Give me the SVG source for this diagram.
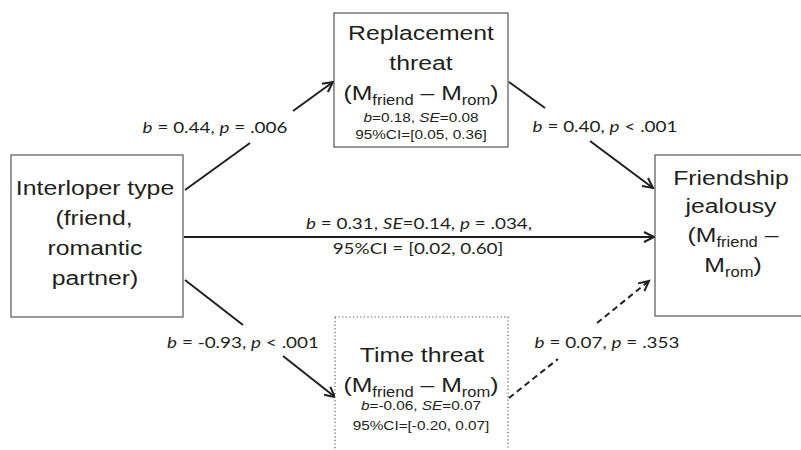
<svg xmlns="http://www.w3.org/2000/svg" width="801" height="450" viewBox="0 0 801 450">
<style>
.box{fill:#fff;stroke:#555;stroke-width:1.2}
.dot{fill:#fff;stroke:#555;stroke-width:1.2;stroke-dasharray:1.2 2.4}
.nt{font-family:"Liberation Sans",Arial,sans-serif;font-size:21px;fill:#231f20;text-anchor:middle}
.sub{font-size:14px}
.st{font-family:"Liberation Sans",Arial,sans-serif;font-size:13px;fill:#231f20;text-anchor:middle}
.lb{font-family:Lato,"Open Sans",sans-serif;font-size:16px;fill:#231f20;text-anchor:middle}
.i{font-style:italic}
.ln{stroke:#231f20;stroke-width:2;fill:none}
.dash{stroke-dasharray:6 4}
</style>
<defs>
<marker id="arr" markerUnits="userSpaceOnUse" markerWidth="14" markerHeight="14" refX="11" refY="6" orient="auto" overflow="visible">
<path d="M1,1 L11,6 L1,11" fill="none" stroke="#231f20" stroke-width="2"/>
</marker>
</defs>

<g id="connectors">
<line class="ln" x1="185" y1="190" x2="250" y2="143"/>
<line class="ln" x1="293" y1="111" x2="333" y2="82" marker-end="url(#arr)"/>
<line class="ln" x1="509" y1="82" x2="545" y2="108"/>
<line class="ln" x1="590" y1="141" x2="653" y2="188" marker-end="url(#arr)"/>
<line class="ln" x1="184" y1="237" x2="654" y2="237" marker-end="url(#arr)"/>
<line class="ln" x1="185" y1="280" x2="243" y2="325"/>
<line class="ln" x1="283" y1="356" x2="335" y2="397" marker-end="url(#arr)"/>
<line class="ln dash" x1="509" y1="398" x2="558" y2="359"/>
<line class="ln dash" x1="597" y1="323" x2="649" y2="281" marker-end="url(#arr)"/>
</g>

<g id="labels">
<text class="lb" transform="translate(215 0) scale(1.18 1)" x="0" y="133"><tspan class="i">b</tspan> = 0.44, <tspan class="i">p</tspan> = .006</text>
<text class="lb" transform="translate(605 0) scale(1.18 1)" x="0" y="132"><tspan class="i">b</tspan> = 0.40, <tspan class="i">p</tspan> &lt; .001</text>
<text class="lb" transform="translate(419 0) scale(1.18 1)" x="0" y="229"><tspan class="i">b</tspan> = 0.31, <tspan class="i">SE</tspan>=0.14, <tspan class="i">p</tspan> = .034,</text>
<text class="lb" transform="translate(418 0) scale(1.18 1)" x="0" y="254">95%CI = [0.02, 0.60]</text>
<text class="lb" transform="translate(243 0) scale(1.18 1)" x="0" y="348"><tspan class="i">b</tspan> = -0.93, <tspan class="i">p</tspan> &lt; .001</text>
<text class="lb" transform="translate(607 0) scale(1.18 1)" x="0" y="348"><tspan class="i">b</tspan> = 0.07, <tspan class="i">p</tspan> = .353</text>
</g>

<g id="interloper">
<rect class="box" x="11" y="155" width="172" height="162"/>
<text class="nt" transform="translate(95 0) scale(1.18 1)" x="0" y="195">Interloper type</text>
<text class="nt" transform="translate(94 0) scale(1.18 1)" x="0" y="225">(friend,</text>
<text class="nt" transform="translate(95 0) scale(1.18 1)" x="0" y="255">romantic</text>
<text class="nt" transform="translate(95 0) scale(1.18 1)" x="0" y="285">partner)</text>
</g>

<g id="replacement">
<rect class="box" x="334" y="13" width="174" height="134"/>
<text class="nt" transform="translate(421 0) scale(1.18 1)" x="0" y="40">Replacement</text>
<text class="nt" transform="translate(421 0) scale(1.18 1)" x="0" y="70">threat</text>
<text class="nt" transform="translate(421 0) scale(1.18 1)" x="0" y="100">(M<tspan class="sub" dy="5">friend</tspan><tspan dy="-5"> – M</tspan><tspan class="sub" dy="5">rom</tspan><tspan dy="-5">)</tspan></text>
<text class="st" transform="translate(421 0) scale(1.18 1)" x="0" y="122"><tspan class="i">b</tspan>=0.18, <tspan class="i">SE</tspan>=0.08</text>
<text class="st" transform="translate(421 0) scale(1.18 1)" x="0" y="139">95%CI=[0.05, 0.36]</text>
</g>

<g id="friendship">
<rect class="box" x="655" y="155" width="160" height="161"/>
<text class="nt" transform="translate(731 0) scale(1.18 1)" x="0" y="185">Friendship</text>
<text class="nt" transform="translate(731 0) scale(1.18 1)" x="0" y="213">jealousy</text>
<text class="nt" transform="translate(733 0) scale(1.18 1)" x="0" y="242">(M<tspan class="sub" dy="5">friend</tspan><tspan dy="-5"> –</tspan></text>
<text class="nt" transform="translate(733 0) scale(1.18 1)" x="0" y="272">M<tspan class="sub" dy="5">rom</tspan><tspan dy="-5">)</tspan></text>
</g>

<g id="time">
<rect class="dot" x="335" y="317" width="173" height="150"/>
<text class="nt" transform="translate(422 0) scale(1.18 1)" x="0" y="362">Time threat</text>
<text class="nt" transform="translate(421 0) scale(1.18 1)" x="0" y="392">(M<tspan class="sub" dy="5">friend</tspan><tspan dy="-5"> – M</tspan><tspan class="sub" dy="5">rom</tspan><tspan dy="-5">)</tspan></text>
<text class="st" transform="translate(421 0) scale(1.18 1)" x="0" y="410"><tspan class="i">b</tspan>=-0.06, <tspan class="i">SE</tspan>=0.07</text>
<text class="st" transform="translate(421 0) scale(1.18 1)" x="0" y="430">95%CI=[-0.20, 0.07]</text>
</g>
</svg>
